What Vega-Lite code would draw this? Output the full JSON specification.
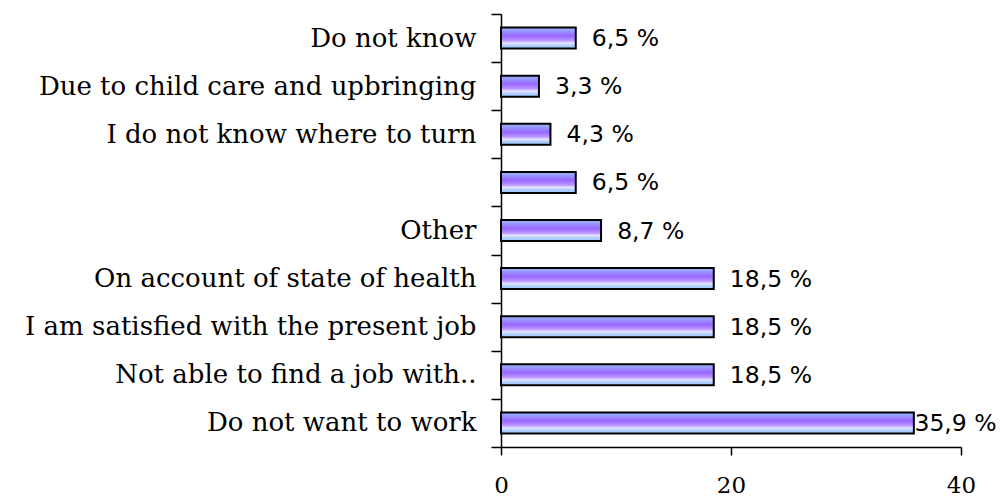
{
  "$schema": "https://vega.github.io/schema/vega-lite/v6.json",
  "autosize": "none",
  "width": 460,
  "height": 433,
  "padding": {"left": 501, "top": 14, "right": 46, "bottom": 50},
  "background": "white",
  "config": {"view": {"stroke": null}},
  "data": {
    "values": [
      {"cat": "Do not know", "value": 6.5},
      {"cat": "Due to child care and upbringing", "value": 3.3},
      {"cat": "I do not know where to turn", "value": 4.3},
      {"cat": " ", "value": 6.5},
      {"cat": "Other", "value": 8.7},
      {"cat": "On account of state of health", "value": 18.5},
      {"cat": "I am satisfied with the present job", "value": 18.5},
      {"cat": "Not able to find a job with..", "value": 18.5},
      {"cat": "Do not want to work", "value": 35.9}
    ]
  },
  "transform": [
    {"calculate": "replace(format(datum.value, '.1f'), '.', ',') + ' %'", "as": "label"},
    {"calculate": "min(datum.value + 1.4, 35.95)", "as": "labelX"}
  ],
  "encoding": {
    "y": {
      "field": "cat",
      "type": "nominal",
      "sort": ["Do not know", "Due to child care and upbringing", "I do not know where to turn", " ", "Other", "On account of state of health", "I am satisfied with the present job", "Not able to find a job with..", "Do not want to work"],
      "scale": {"paddingInner": 0, "paddingOuter": 0},
      "axis": {
        "title": null,
        "tickBand": "extent",
        "tickSize": 10,
        "tickColor": "black",
        "tickWidth": 1.5,
        "domainColor": "black",
        "domainWidth": 1.5,
        "labelFont": "DejaVu Serif",
        "labelFontSize": 26,
        "labelColor": "black",
        "labelPadding": 15,
        "labelLimit": 600
      }
    }
  },
  "layer": [
    {
      "mark": {
        "type": "bar",
        "size": 21,
        "stroke": "black",
        "strokeWidth": 2,
        "color": {
          "gradient": "linear",
          "x1": 0, "y1": 0, "x2": 0, "y2": 1,
          "stops": [
            {"offset": 0, "color": "#99bbff"},
            {"offset": 0.4, "color": "#9966ff"},
            {"offset": 0.62, "color": "#bb99ff"},
            {"offset": 0.74, "color": "#e6e6ff"},
            {"offset": 0.85, "color": "#b3ccff"},
            {"offset": 1, "color": "#99ccff"}
          ]
        }
      },
      "encoding": {
        "x": {
          "field": "value",
          "type": "quantitative",
          "scale": {"domain": [0, 40], "nice": false},
          "axis": {
            "title": null,
            "values": [0, 20, 40],
            "grid": false,
            "tickSize": 8,
            "tickColor": "black",
            "tickWidth": 1.5,
            "domainColor": "black",
            "domainWidth": 1.5,
            "labelFont": "DejaVu Serif",
            "labelFontSize": 23,
            "labelColor": "black",
            "labelPadding": 19,
            "labelFlush": false
          }
        }
      }
    },
    {
      "mark": {
        "type": "text",
        "align": "left",
        "baseline": "middle",
        "font": "DejaVu Sans",
        "fontSize": 23.5,
        "color": "black",
        "dy": 1
      },
      "encoding": {
        "x": {"field": "labelX", "type": "quantitative"},
        "text": {"field": "label"}
      }
    }
  ]
}
